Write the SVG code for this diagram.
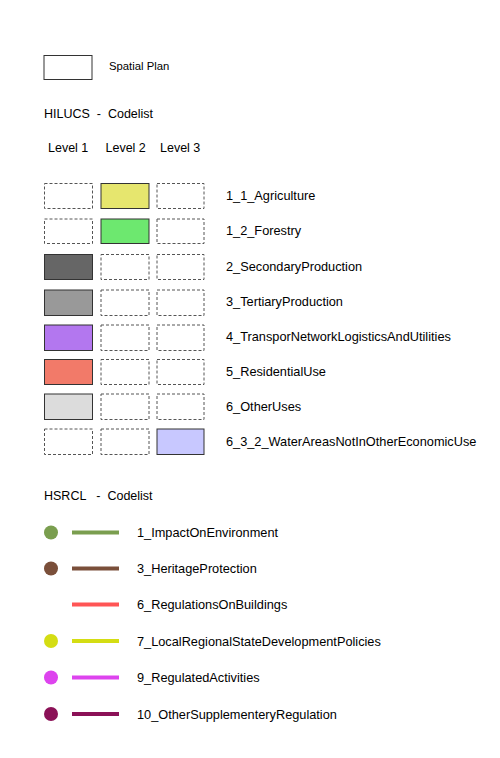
<svg xmlns="http://www.w3.org/2000/svg" width="500" height="758" viewBox="0 0 500 758">
<style>
text{font-family:"Liberation Sans",Arial,sans-serif;fill:#000;white-space:pre;}
.t{font-size:12.75px;}
.h{font-size:12.5px;}
.s{font-size:11.3px;}
.solid{stroke:#333;stroke-width:1;}
.dash{fill:#fff;stroke:#555;stroke-width:1;stroke-dasharray:3 2;}
.ln{stroke-width:4;fill:none;}
</style>
<rect width="500" height="758" fill="#fff"/>
<g id="spatial-plan">
<rect x="44" y="55.5" width="48" height="24" fill="#fff" stroke="#333"/>
<text class="s" x="109" y="69.5">Spatial Plan</text>
</g>
<g id="hilucs-header">
<text class="h" x="44" y="117.5" xml:space="preserve">HILUCS  -  Codelist</text>
<text class="h" x="48" y="151.5">Level 1</text>
<text class="h" x="105.5" y="151.5">Level 2</text>
<text class="h" x="160" y="151.5">Level 3</text>
</g>
<g id="n-1_1">
<rect class="dash" x="44.5" y="183.5" width="48" height="25"/>
<rect class="solid" x="101" y="183.5" width="48" height="25" fill="#e6e66e"/>
<rect class="dash" x="157" y="183.5" width="47" height="25"/>
<text class="t" x="226" y="200">1_1_Agriculture</text>
</g>
<g id="n-1_2">
<rect class="dash" x="44.5" y="219" width="48" height="24.5"/>
<rect class="solid" x="101" y="219" width="48" height="24.5" fill="#6de86f"/>
<rect class="dash" x="157" y="219" width="47" height="24.5"/>
<text class="t" x="226" y="235">1_2_Forestry</text>
</g>
<g id="n-2">
<rect class="solid" x="44.5" y="254.5" width="48" height="25" fill="#666666"/>
<rect class="dash" x="101" y="254.5" width="48" height="25"/>
<rect class="dash" x="157" y="254.5" width="47" height="25"/>
<text class="t" x="226" y="270.5">2_SecondaryProduction</text>
</g>
<g id="n-3">
<rect class="solid" x="44.5" y="290" width="48" height="25.5" fill="#999999"/>
<rect class="dash" x="101" y="290" width="48" height="25.5"/>
<rect class="dash" x="157" y="290" width="47" height="25.5"/>
<text class="t" x="226" y="305.5">3_TertiaryProduction</text>
</g>
<g id="n-4">
<rect class="solid" x="44.5" y="325" width="48" height="25.5" fill="#b377ef"/>
<rect class="dash" x="101" y="325" width="48" height="25.5"/>
<rect class="dash" x="157" y="325" width="47" height="25.5"/>
<text class="t" x="226" y="340.5">4_TransporNetworkLogisticsAndUtilities</text>
</g>
<g id="n-5">
<rect class="solid" x="44.5" y="359.5" width="48" height="25" fill="#f27a69"/>
<rect class="dash" x="101" y="359.5" width="48" height="25"/>
<rect class="dash" x="157" y="359.5" width="47" height="25"/>
<text class="t" x="226" y="376">5_ResidentialUse</text>
</g>
<g id="n-6">
<rect class="solid" x="44.5" y="394" width="48" height="25.5" fill="#dcdcdc"/>
<rect class="dash" x="101" y="394" width="48" height="25.5"/>
<rect class="dash" x="157" y="394" width="47" height="25.5"/>
<text class="t" x="226" y="411">6_OtherUses</text>
</g>
<g id="n-6_3_2">
<rect class="dash" x="44.5" y="429" width="48" height="25.5"/>
<rect class="dash" x="101" y="429" width="48" height="25.5"/>
<rect class="solid" x="157" y="429" width="47" height="25.5" fill="#c8c8ff"/>
<text class="t" x="226" y="446">6_3_2_WaterAreasNotInOtherEconomicUse</text>
</g>
<g id="hsrcl-header">
<text class="h" x="44" y="499.5" xml:space="preserve">HSRCL   -  Codelist</text>
</g>
<g id="r-1">
<circle cx="51" cy="532.5" r="7" fill="#7a9e4f"/>
<text class="t" x="137" y="536.5">1_ImpactOnEnvironment</text>
</g>
<g id="r-3">
<circle cx="51" cy="568.5" r="7" fill="#7a4f3a"/>
<text class="t" x="137" y="573">3_HeritageProtection</text>
</g>
<g id="r-6">
<text class="t" x="137" y="609">6_RegulationsOnBuildings</text>
</g>
<g id="r-7">
<circle cx="51" cy="641" r="7" fill="#d4dd13"/>
<text class="t" x="137" y="645.5">7_LocalRegionalStateDevelopmentPolicies</text>
</g>
<g id="r-9">
<circle cx="51" cy="677.5" r="7" fill="#dd44ee"/>
<text class="t" x="137" y="682">9_RegulatedActivities</text>
</g>
<g id="r-10">
<circle cx="51" cy="714" r="7" fill="#8b1157"/>
<text class="t" x="137" y="718.5">10_OtherSupplementeryRegulation</text>
</g>
<g id="connectors">
<line class="ln" x1="72" y1="532.5" x2="119" y2="532.5" stroke="#7a9e4f"/>
<line class="ln" x1="72" y1="568.5" x2="119" y2="568.5" stroke="#7a4f3a"/>
<line class="ln" x1="72" y1="604.5" x2="119" y2="604.5" stroke="#ff5555"/>
<line class="ln" x1="72" y1="641" x2="119" y2="641" stroke="#d4dd13"/>
<line class="ln" x1="72" y1="677.5" x2="119" y2="677.5" stroke="#dd44ee"/>
<line class="ln" x1="72" y1="714" x2="119" y2="714" stroke="#8b1157"/>
</g>
</svg>
